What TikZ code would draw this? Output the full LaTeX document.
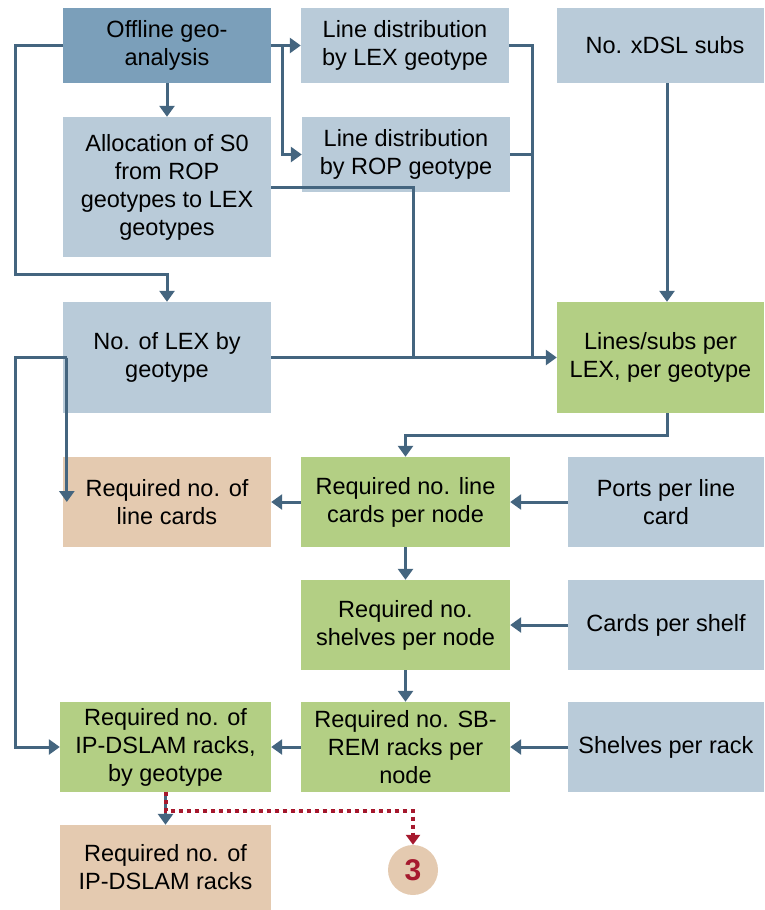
\documentclass[tikz,border=0pt]{standalone}
\usepackage{fontspec}
\setmainfont{Liberation Sans}
\usetikzlibrary{arrows.meta}

\definecolor{inputblue}{HTML}{B9CBD9}
\definecolor{startblue}{HTML}{7B9FBA}
\definecolor{calcgreen}{HTML}{B3CF84}
\definecolor{outbeige}{HTML}{E4CAB0}
\definecolor{linkblue}{HTML}{44657F}
\definecolor{linkred}{HTML}{A6192E}

\begin{document}
\begin{tikzpicture}[x=1pt,y=-1pt,
    box/.style={rectangle,inner sep=0pt,align=center,
        font=\fontsize{23.5}{28}\selectfont},
    inbox/.style={box,fill=inputblue},
    calcbox/.style={box,fill=calcgreen},
    outbox/.style={box,fill=outbeige},
    link/.style={draw=linkblue,line width=3pt},
    arr/.style={link,-{Triangle[width=15pt,length=11pt]}},
    nextref/.style={draw=linkred,line width=4pt,dash pattern=on 4pt off 4pt,
        -{Triangle[width=14pt,length=10pt]}}]
    \useasboundingbox (0,0) rectangle (764,910);

    \node[box,fill=startblue,minimum width=208pt,minimum height=75pt] (geo) at (167,45.5) {Offline geo-\\analysis};
    \node[inbox,minimum width=208pt,minimum height=75pt] (lexdist) at (405,45.5) {Line distribution\\by LEX geotype};
    \node[inbox,minimum width=207pt,minimum height=75pt] (xdsl) at (660.5,45.5) {\hspace{9pt}No. xDSL subs};
    \node[inbox,minimum width=208pt,minimum height=140pt] (alloc) at (167,187) {Allocation of S0\\from ROP\\geotypes to LEX\\geotypes};
    \node[inbox,minimum width=208pt,minimum height=75pt] (ropdist) at (406,154.5) {Line distribution\\by ROP geotype};

    \node[inbox,minimum width=208pt,minimum height=111pt] (lex) at (167,357.5) {No. of LEX by\\geotype};
    \node[calcbox,minimum width=207pt,minimum height=111pt] (lines) at (660.5,357.5) {Lines/subs per\\LEX, per geotype};

    \node[outbox,minimum width=208pt,minimum height=90pt] (lcards) at (167,502) {Required no. of\\line cards};
    \node[calcbox,minimum width=209pt,minimum height=90pt] (lcnode) at (405.5,502) {Required no. line\\cards per node};
    \node[inbox,minimum width=196pt,minimum height=90pt] (ports) at (666,502) {Ports per line\\card};

    \node[calcbox,minimum width=209pt,minimum height=90pt] (shelves) at (405.5,625) {Required no.\\shelves per node};
    \node[inbox,minimum width=196pt,minimum height=90pt] (cps) at (666,625) {Cards per shelf};

    \node[calcbox,minimum width=211pt,minimum height=90pt] (racksgeo) at (165.5,747) {Required no. of\\IP-DSLAM racks,\\by geotype};
    \node[calcbox,minimum width=209pt,minimum height=90pt] (sbrem) at (405.5,747) {Required no. SB-\\REM racks per\\node};
    \node[inbox,minimum width=196pt,minimum height=90pt] (spr) at (666,747) {Shelves per rack};

    \node[outbox,minimum width=211pt,minimum height=85pt] (racks) at (165.5,867.5) {Required no. of\\IP-DSLAM racks};
    \node[circle,fill=outbeige,minimum size=50pt,inner sep=0pt,text=linkred,
        font=\fontsize{30}{30}\selectfont\bfseries] (three) at (413,870) {3};

    \coordinate (split) at (282,45.5);
    \coordinate (join) at (532,357.5);

    % top block
    \draw[arr] (geo.west) -| (15,274) -| (lex.north);
    \draw[arr] (geo.south) -- (alloc.north);
    \draw[arr] (geo.east) -- (lexdist.west);
    \draw[arr] (split) |- (ropdist.west);
    \draw[link] (lexdist.east) -| (join);
    \draw[link] (ropdist.east) -| (join);
    \draw[link] (alloc.east) -| (413,357.5);
    \draw[arr] (lex.east) -- (lines.west);
    \draw[arr] ([xshift=6.5pt]xdsl.south) -- ([xshift=6.5pt]lines.north);

    % card / shelf / rack chain
    \draw[arr] ([xshift=6.5pt]lines.south) -- ++(0,22) -| (lcnode.north);
    \draw[arr] (ports.west) -- (lcnode.east);
    \draw[arr] (lcnode.west) -- (lcards.east);
    \draw[arr] ([xshift=4pt]lex.west) -- ([xshift=4pt]lcards.west);
    \draw[arr] ([xshift=4pt]lex.west) -| (15,747) -- (racksgeo.west);
    \draw[arr] (lcnode.south) -- (shelves.north);
    \draw[arr] (cps.west) -- (shelves.east);
    \draw[arr] (shelves.south) -- (sbrem.north);
    \draw[arr] (spr.west) -- (sbrem.east);
    \draw[arr] (sbrem.west) -- (racksgeo.east);
    \draw[arr] (racksgeo.south) -- (racks.north);

    % on to the next sheet
    \draw[nextref] (racksgeo.south) -- ++(0,19) -| (three.north);
\end{tikzpicture}
\end{document}
